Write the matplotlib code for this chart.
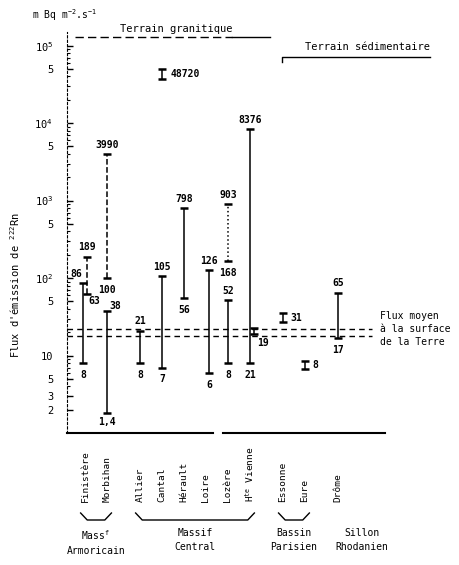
import matplotlib
matplotlib.use("Agg")
import matplotlib.pyplot as plt
import matplotlib.transforms as mtransforms
from matplotlib.lines import Line2D
from matplotlib.ticker import FixedLocator, FixedFormatter, LogLocator, NullFormatter

plt.rcParams['font.family'] = ['DejaVu Sans Mono', 'DejaVu Sans']
plt.rcParams['mathtext.default'] = 'regular'

# Data
departements = ["Finistère", "Morbihan", "Allier", "Cantal", "Hérault", "Loire",
                "Lozère", "H$^{te}$ Vienne", "Essonne", "Eure", "Drôme"]
dep_group = [0, 0, 1, 1, 1, 1, 1, 1, 2, 2, 3]
group_names = ["Mass$^f$\nArmoricain", "Massif\nCentral", "Bassin\nParisien", "Sillon\nRhodanien"]

# one entry per measured range (departement index, min, max, printed values)
range_dep = [0, 0, 1, 1, 2, 3, 3, 4, 5, 6, 6, 7, 7, 8, 9, 10]
range_low = [8, 63, 100, 1.8, 8, 7, 37000, 56, 6, 168, 8, 8, 19, 27, 6.8, 17]
range_high = [86, 189, 3990, 38, 21, 105, 50000, 798, 126, 903, 52, 8376, 23, 35, 8.6, 65]
high_text = ["86", "189", "3990", "38", "21", "105", "48720", "798", "126", "903",
             "52", "8376", "", "31", "8", "65"]
low_text = ["8", "63", "100", "1,4", "8", "7", "", "56", "6", "168", "8", "21",
            "19", "", "", "17"]

mean_flux = [18, 22]

ytick_vals = [2, 3, 5, 10, 50, 100, 500, 1e3, 5e3, 1e4, 5e4, 1e5]
ytick_text = ["2", "3", "5", "10", "5", "10$^2$", "5", "10$^3$", "5", "10$^4$", "5", "10$^5$"]

# Layout / style
range_dx = [-0.1, 0.1, 0, 0, 0, 0, 0, 0, 0.15, 0, 0, 0, 0.2, 0, 0, 0]
range_ls = ['-', '--', '--', '-', '-', '-', '-', '-', '-', ':', '-', '-', '-', '-', '-', '-']
# label placement: (dx, dy) in points, ha, va
high_place = {0: (-5, 3, 'center', 'bottom'), 3: (6, 0, 'center', 'bottom'),
              6: (6, 0, 'left', 'center'), 13: (5, 0, 'left', 'center'),
              14: (5, 0, 'left', 'center')}
low_place = {1: (5, -2, 'center', 'top'), 3: (0, -3, 'center', 'top'),
             12: (6, -3, 'center', 'top')}

xpos = [i + 0.5 * g for i, g in enumerate(dep_group)]

fig = plt.figure(figsize=(4.59, 5.65), dpi=100)
ax = fig.add_axes([67 / 459, (565 - 433) / 565, (385 - 67) / 459, (433 - 32) / 565])
ax.set_yscale('log')
ax.set_ylim(1, 1.5e5)
ax.set_xlim(-0.82, 13.64)

for k in range(len(range_dep)):
    x = xpos[range_dep[k]] + range_dx[k]
    lo, hi = range_low[k], range_high[k]
    ax.vlines(x, lo, hi, color='black', lw=1.1, linestyles=range_ls[k])
    ax.hlines([lo, hi], x - 0.18, x + 0.18, color='black', lw=1.8)
    if high_text[k]:
        dx, dy, ha, va = high_place.get(k, (0, 3, 'center', 'bottom'))
        yv = hi if va == 'bottom' else (lo * hi) ** 0.5
        ax.annotate(high_text[k], (x, yv), xytext=(dx, dy), textcoords='offset points',
                    ha=ha, va=va, fontsize=7, fontweight='bold')
    if low_text[k]:
        dx, dy, ha, va = low_place.get(k, (0, -5, 'center', 'top'))
        ax.annotate(low_text[k], (x, lo), xytext=(dx, dy), textcoords='offset points',
                    ha=ha, va=va, fontsize=7, fontweight='bold')

# mean flux at the Earth's surface
ax.hlines(mean_flux, -0.82, 13.05, color='black', lw=1.0, linestyles=(0, (4, 3)), clip_on=False)
ax.text(13.4, 22, "Flux moyen\nà la surface\nde la Terre", fontsize=7, ha='left', va='center',
        linespacing=1.35)

# axes styling
for s in ['top', 'right', 'bottom']:
    ax.spines[s].set_visible(False)
ax.spines['left'].set_linestyle((0, (2, 2)))
ax.plot([-0.82, 5.82], [1, 1], color='black', lw=1.5, clip_on=False)
ax.plot([6.27, 13.64], [1, 1], color='black', lw=1.5, clip_on=False)

ax.yaxis.set_major_locator(FixedLocator(ytick_vals))
ax.yaxis.set_major_formatter(FixedFormatter(ytick_text))
ax.yaxis.set_minor_locator(LogLocator(base=10, subs=range(2, 10)))
ax.yaxis.set_minor_formatter(NullFormatter())
ax.tick_params(axis='y', which='major', direction='in', length=4, width=1, pad=10, labelsize=7.5)
ax.tick_params(axis='y', which='minor', direction='in', length=2.5, width=0.8)
ax.set_xticks([])

# x labels, rotated
trans = mtransforms.blended_transform_factory(ax.transData, ax.transAxes)
ylab = (433 - 502) / (433 - 32)
for x, name in zip(xpos, departements):
    ax.text(x, ylab, name, rotation=90, ha='center', va='bottom', fontsize=6.8,
            transform=trans, clip_on=False)

# group braces and names
ytop = (433 - 513) / (433 - 32)
ybot = (433 - 520) / (433 - 32)
yname = (433 - 528) / (433 - 32)
group_dx = [0, 0, 0, 1.1]
for g, gname in enumerate(group_names):
    members = [xpos[i] for i in range(len(xpos)) if dep_group[i] == g]
    if len(members) > 1:
        a, b = members[0] - 0.2, members[-1] + 0.2
        ax.add_line(Line2D([a, a + 0.3, b - 0.3, b], [ytop, ybot, ybot, ytop], color='black',
                           lw=1, transform=trans, clip_on=False))
    cx = sum(members) / len(members) + group_dx[g]
    ax.text(cx, yname, gname, ha='center', va='top', fontsize=7, linespacing=1.5,
            transform=trans, clip_on=False)

# unit, y label and terrain headers
fig.text(32 / 459, 1 - 15 / 565, "m Bq m$^{-2}$.s$^{-1}$", fontsize=7, ha='left', va='center')
fig.text(15 / 459, 1 - 285 / 565, "Flux d'émission de $^{222}$Rn", fontsize=7.5, rotation=90,
         ha='center', va='center')

fig.text(120 / 459, 1 - 29 / 565, "Terrain granitique", fontsize=7.5, ha='left', va='center')
fig.add_artist(Line2D([75 / 459, 232 / 459], [1 - 37 / 565, 1 - 37 / 565], color='black', lw=1,
                      ls=(0, (6, 3)), transform=fig.transFigure))
fig.add_artist(Line2D([232 / 459, 270 / 459], [1 - 37 / 565, 1 - 37 / 565], color='black', lw=1,
                      transform=fig.transFigure))

fig.text(305 / 459, 1 - 47 / 565, "Terrain sédimentaire", fontsize=7.5, ha='left', va='center')
fig.add_artist(Line2D([282 / 459, 282 / 459, 430 / 459], [1 - 62 / 565, 1 - 57 / 565, 1 - 57 / 565],
                      color='black', lw=1, transform=fig.transFigure))

fig.savefig("out.png", dpi=100)
